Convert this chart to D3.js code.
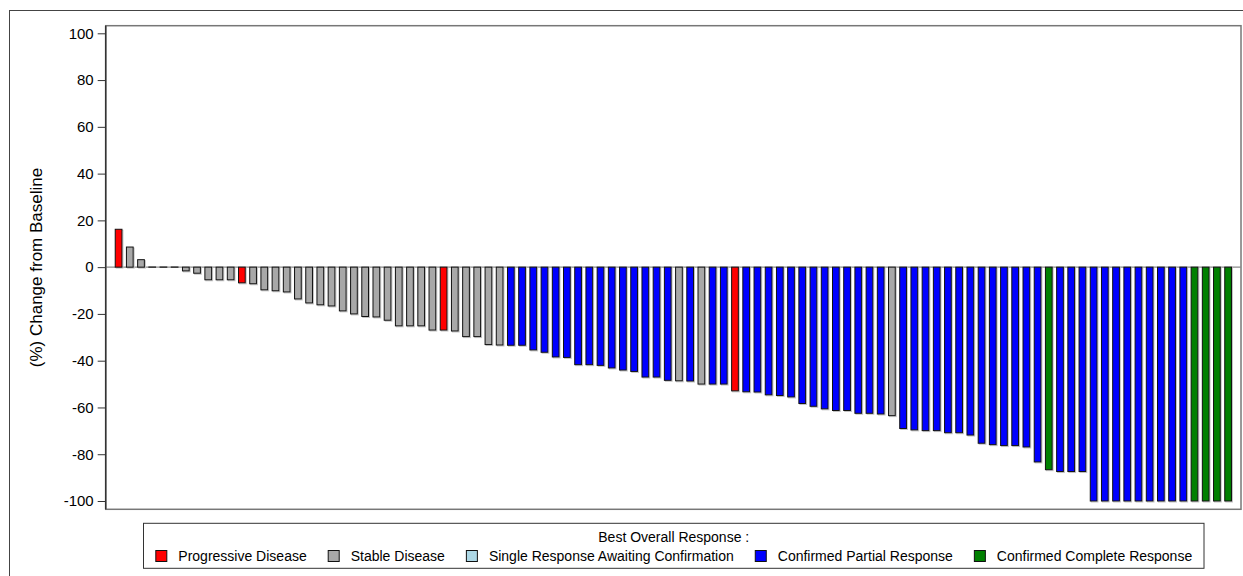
<!DOCTYPE html>
<html>
<head>
<meta charset="utf-8">
<script src="https://cdn.jsdelivr.net/npm/d3@7"></script>
<style>
  body { margin: 0; background: #fff; }
  svg { display: block; font-family: "Liberation Sans", Arial, sans-serif; }
</style>
</head>
<body>
<svg width="1243" height="576"></svg>
<script>
// Best percent change from baseline, one bar per patient (sorted)
const changes = [
    16.2, 8.6, 3.2, 0, 0, 0, -1.6, -2.6, -5.4, -5.4,
    -5.4, -6.7, -7.1, -9.7, -10.1, -10.6, -13.6, -15.3, -16.1, -16.6,
    -18.7, -20.0, -21.1, -21.3, -22.7, -25.1, -25.1, -25.1, -26.9, -26.9,
    -27.3, -29.7, -29.7, -33.1, -33.3, -33.4, -33.4, -35.4, -36.4, -38.4,
    -38.6, -41.7, -41.7, -42.0, -43.1, -44.0, -44.6, -47.0, -47.0, -48.4,
    -48.6, -48.7, -50.0, -50.0, -50.0, -52.9, -53.3, -53.4, -54.6, -54.9,
    -55.5, -58.3, -59.5, -60.6, -61.3, -61.3, -62.5, -62.5, -62.8, -63.5,
    -69.0, -69.6, -69.9, -69.9, -70.8, -70.8, -71.8, -75.3, -75.9, -76.3,
    -76.3, -76.9, -83.3, -86.6, -87.4, -87.4, -87.4, -100, -100, -100,
    -100, -100, -100, -100, -100, -100, -100, -100, -100, -100
];

// Best overall response per bar
const responses = [
    "PD", "SD", "SD", "SD", "SD", "SD", "SD", "SD", "SD", "SD",
    "SD", "PD", "SD", "SD", "SD", "SD", "SD", "SD", "SD", "SD",
    "SD", "SD", "SD", "SD", "SD", "SD", "SD", "SD", "SD", "PD",
    "SD", "SD", "SD", "SD", "SD", "PR", "PR", "PR", "PR", "PR",
    "PR", "PR", "PR", "PR", "PR", "PR", "PR", "PR", "PR", "PR",
    "SD", "PR", "SD", "PR", "PR", "PD", "PR", "PR", "PR", "PR",
    "PR", "PR", "PR", "PR", "PR", "PR", "PR", "PR", "PR", "SD",
    "PR", "PR", "PR", "PR", "PR", "PR", "PR", "PR", "PR", "PR",
    "PR", "PR", "PR", "CR", "PR", "PR", "PR", "PR", "PR", "PR",
    "PR", "PR", "PR", "PR", "PR", "PR", "CR", "CR", "CR", "CR"
];

const responseCodes = ["PD", "SD", "SRAC", "PR", "CR"];
const responseLabels = [
    "Progressive Disease",
    "Stable Disease",
    "Single Response Awaiting Confirmation",
    "Confirmed Partial Response",
    "Confirmed Complete Response"
];
const responseColors = ["#ff0000", "#a8a8a8", "#add8e6", "#0000ff", "#008000"];

const yTicks = [-100, -80, -60, -40, -20, 0, 20, 40, 60, 80, 100];

const data = changes.map((v, i) => ({ id: i, value: v, resp: responses[i] }));

const svg = d3.select("svg");

const plot = { left: 105.7, right: 1241, top: 25.7, bottom: 509.3 };

const x = d3.scaleBand()
    .domain(data.map((d) => d.id))
    .range([plot.left, plot.right])
    .paddingInner(0.4)
    .paddingOuter(0.85);

const y = d3.scaleLinear()
    .domain([-100, 100])
    .range([501, 33.3]);

const color = d3.scaleOrdinal()
    .domain(responseCodes)
    .range(responseColors);

// outer border
svg.append("rect")
    .attr("x", 9.5)
    .attr("y", 10.5)
    .attr("width", 1300)
    .attr("height", 700)
    .attr("fill", "none")
    .attr("stroke", "#444")
    .attr("stroke-width", 1);

// plot frame
svg.append("rect")
    .attr("x", plot.left)
    .attr("y", plot.top)
    .attr("width", plot.right - plot.left)
    .attr("height", plot.bottom - plot.top)
    .attr("fill", "#fff")
    .attr("stroke", "#777")
    .attr("stroke-width", 1.5);

// zero reference line
svg.append("line")
    .attr("x1", plot.left)
    .attr("x2", plot.right)
    .attr("y1", y(0))
    .attr("y2", y(0))
    .attr("stroke", "#8a8a8a")
    .attr("stroke-width", 1.2);

const nonZero = data.filter((d) => d.value !== 0);
const zeros = data.filter((d) => d.value === 0);

// bar shadows
svg.append("g")
    .selectAll("rect")
    .data(nonZero)
    .enter()
    .append("rect")
    .attr("x", (d) => x(d.id) + 1)
    .attr("y", (d) => Math.min(y(d.value), y(0)) + 1)
    .attr("width", x.bandwidth())
    .attr("height", (d) => Math.abs(y(d.value) - y(0)))
    .attr("fill", "none")
    .attr("stroke", "#c4c4c4")
    .attr("stroke-width", 1);

// bars
svg.append("g")
    .attr("class", "bars")
    .selectAll("rect")
    .data(nonZero)
    .enter()
    .append("rect")
    .attr("x", (d) => x(d.id))
    .attr("y", (d) => Math.min(y(d.value), y(0)))
    .attr("width", x.bandwidth())
    .attr("height", (d) => Math.abs(y(d.value) - y(0)))
    .attr("fill", (d) => color(d.resp))
    .attr("stroke", "#111")
    .attr("stroke-width", 1);

// zero-height bars show as short dark dashes on the baseline
svg.append("g")
    .selectAll("line")
    .data(zeros)
    .enter()
    .append("line")
    .attr("x1", (d) => x(d.id) - 0.5)
    .attr("x2", (d) => x(d.id) + x.bandwidth() + 0.5)
    .attr("y1", y(0))
    .attr("y2", y(0))
    .attr("stroke", "#333")
    .attr("stroke-width", 1.5);

// y axis
const yAxis = svg.append("g")
    .attr("transform", `translate(${plot.left},0)`)
    .call(d3.axisLeft(y).tickValues(yTicks).tickSize(8).tickPadding(4).tickFormat((d) => d));

yAxis.select(".domain").attr("stroke", "#333").attr("stroke-width", 1.5)
    .attr("d", `M0,${plot.top}V${plot.bottom}`);
yAxis.selectAll(".tick line").attr("stroke", "#333");
yAxis.selectAll(".tick text")
    .attr("font-size", 15)
    .attr("font-family", "Liberation Sans, Arial, sans-serif")
    .attr("fill", "#000");

svg.append("text")
    .attr("transform", `translate(42,${(plot.top + plot.bottom) / 2}) rotate(-90)`)
    .attr("text-anchor", "middle")
    .attr("font-size", 17)
    .text("(%) Change from Baseline");

// legend
const legendBox = { left: 143.5, right: 1204, top: 523.3, bottom: 568.3 };
const legendMid = (legendBox.left + legendBox.right) / 2;

svg.append("rect")
    .attr("x", legendBox.left)
    .attr("y", legendBox.top)
    .attr("width", legendBox.right - legendBox.left)
    .attr("height", legendBox.bottom - legendBox.top)
    .attr("fill", "#fff")
    .attr("stroke", "#333")
    .attr("stroke-width", 1);

svg.append("text")
    .attr("x", legendMid)
    .attr("y", 541.7)
    .attr("text-anchor", "middle")
    .attr("font-size", 14)
    .text("Best Overall Response :");

const legendRow = svg.append("g");
const swatch = 11;
const gapSwatchText = 12;
const gapItem = 21;
let cursor = 0;
responseCodes.forEach((code, i) => {
    const item = legendRow.append("g").attr("transform", `translate(${cursor},0)`);
    item.append("rect")
        .attr("x", 0.5)
        .attr("y", 550.5)
        .attr("width", swatch)
        .attr("height", swatch)
        .attr("fill", color(code))
        .attr("stroke", "#111");
    const t = item.append("text")
        .attr("x", swatch + gapSwatchText)
        .attr("y", 560.5)
        .attr("font-size", 14)
        .text(responseLabels[i]);
    cursor += swatch + gapSwatchText + t.node().getComputedTextLength() + gapItem;
});
const rowWidth = cursor - gapItem;
legendRow.attr("transform", `translate(${legendMid - rowWidth / 2},0)`);
</script>
</body>
</html>
